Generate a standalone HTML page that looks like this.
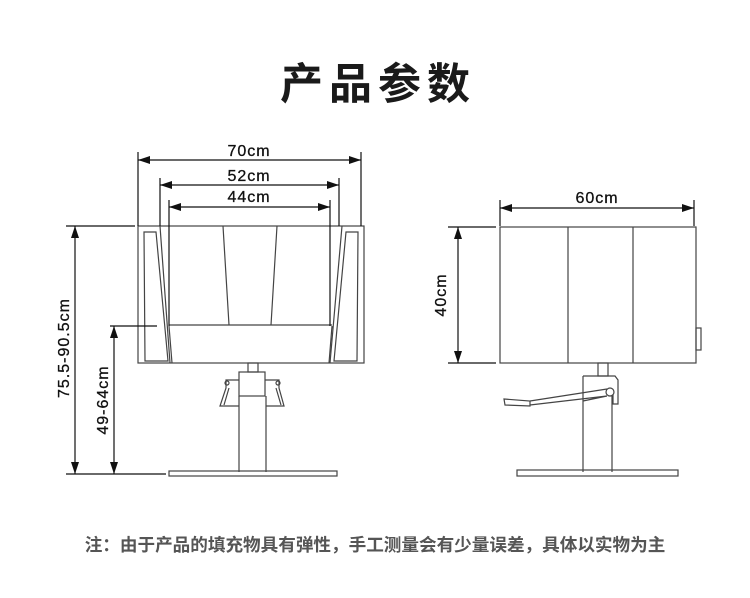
<!DOCTYPE html>
<html><head><meta charset="utf-8"><style>
html,body{margin:0;padding:0;background:#fff;width:750px;height:598px;overflow:hidden}
.t{position:absolute;left:0;width:750px;text-align:center;top:50px;font:bold 43px "Liberation Sans","Noto Sans CJK SC",sans-serif;letter-spacing:6px;color:#1a1a1a;text-indent:6px}
.n{position:absolute;left:0;width:750px;text-align:center;top:532px;font:bold 17.6px "Liberation Sans","Noto Sans CJK SC",sans-serif;color:#555}
svg{position:absolute;left:0;top:0}
</style></head><body>
<div class="t">产品参数</div>
<svg width="750" height="598" viewBox="0 0 750 598">
<defs><marker id="a" markerWidth="12" markerHeight="8" refX="12" refY="4" orient="auto-start-reverse" markerUnits="userSpaceOnUse"><path d="M0,0 L12,4 L0,8 Z" fill="#111"/></marker></defs>
<g fill="none" stroke="#444" stroke-width="1.2">
<rect x="138" y="226" width="226" height="137"/>
<path d="M144,232 L156,232 L168,361 L145,361 Z"/>
<path d="M358,232 L346,232 L334,361 L357,361 Z"/>
<path d="M160,226 L170,363 M342,226 L330,363"/>
<path d="M223,226 L229,325 M277,226 L271,325"/>
<path d="M169,325 L332,325 M169,326 L172,363 M332,326 L329,363"/>
<rect x="248" y="363" width="10" height="9"/>
<rect x="239" y="372" width="26" height="24"/>
<path d="M239,396 L239,472 M266,396 L266,472"/>
<rect x="169" y="471" width="168" height="5"/>
<path d="M239,380 L226,380 L226,388 L220,406 L239,406 M265,380 L279,380 L279,388 L284,406 L266,406"/>
<path d="M229,388 L224,405 M276,388 L281,405"/>
<circle cx="227" cy="383" r="2"/><circle cx="278" cy="383" r="2"/>
<rect x="500" y="227" width="196" height="136"/>
<path d="M568,227 L568,363 M633,227 L633,363"/>
<rect x="696" y="328" width="5" height="22"/>
<rect x="598" y="363" width="10" height="13"/>
<path d="M583,376 L615,376 L618,380 L618,404 L613,404 L613,395 M583,376 L583,472 M612,396 L612,472"/>
<rect x="517" y="470" width="161" height="6"/>
<path d="M504,399 L530,401 L530,406 L505,405 Z"/>
<path d="M530,401 L607,389 M530,405 L607,396 L583,401"/>
<circle cx="610" cy="392" r="4"/>
</g>
<g stroke="#111" stroke-width="1.2" fill="none">
<path d="M138,152 L138,226 M361,152 L361,226 M160,178 L160,226 M339,178 L339,226 M169,200 L169,326 M330,200 L330,326"/>
<path d="M138,160 L361,160" marker-start="url(#a)" marker-end="url(#a)"/>
<path d="M160,185 L339,185" marker-start="url(#a)" marker-end="url(#a)"/>
<path d="M169,207 L330,207" marker-start="url(#a)" marker-end="url(#a)"/>
<path d="M66,226 L135,226 M66,474 L166,474 M110,326 L157,326"/>
<path d="M75,226 L75,474" marker-start="url(#a)" marker-end="url(#a)"/>
<path d="M114,326 L114,474" marker-start="url(#a)" marker-end="url(#a)"/>
<path d="M500,200 L500,226 M694,200 L694,226 M448,227 L496,227 M448,363 L496,363"/>
<path d="M500,208 L694,208" marker-start="url(#a)" marker-end="url(#a)"/>
<path d="M458,227 L458,363" marker-start="url(#a)" marker-end="url(#a)"/>
</g>
<g font-family="Liberation Sans, sans-serif" font-size="16" fill="#111" text-anchor="middle" letter-spacing="1" stroke="#111" stroke-width="0.3">
<text x="249" y="156">70cm</text>
<text x="249" y="181">52cm</text>
<text x="249" y="202">44cm</text>
<text x="597" y="203">60cm</text>
<text transform="translate(69,348) rotate(-90)">75.5-90.5cm</text>
<text transform="translate(108,400) rotate(-90)">49-64cm</text>
<text transform="translate(446,295) rotate(-90)">40cm</text>
</g>
</svg>
<div class="n">注：由于产品的填充物具有弹性，手工测量会有少量误差，具体以实物为主</div>
</body></html>
